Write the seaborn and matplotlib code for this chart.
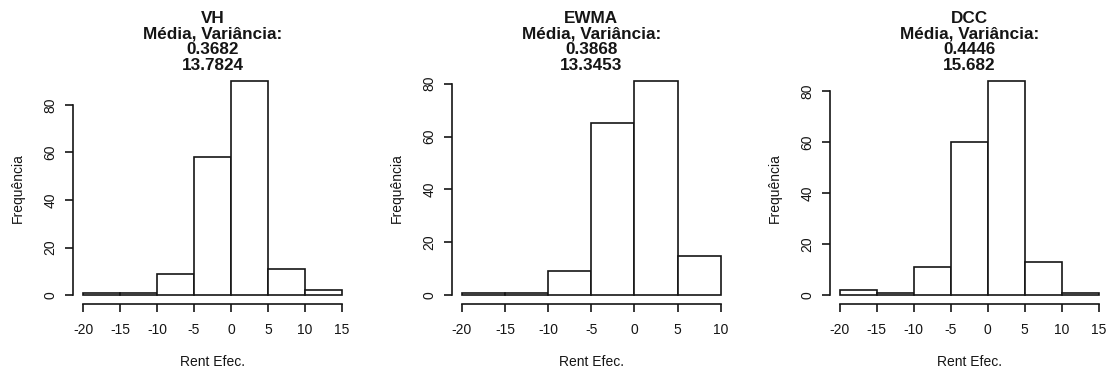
import numpy as np
import pandas as pd
import matplotlib
matplotlib.use("Agg")
import matplotlib.pyplot as plt
import seaborn as sns

# Histogram bin edges and counts for each volatility model
edges_vh = [-20, -15, -10, -5, 0, 5, 10, 15]
counts_vh = [1, 1, 9, 58, 90, 11, 2]

edges_ewma = [-20, -15, -10, -5, 0, 5, 10]
counts_ewma = [1, 1, 9, 65, 81, 15]

edges_dcc = [-20, -15, -10, -5, 0, 5, 10, 15]
counts_dcc = [2, 1, 11, 60, 84, 13, 1]

models = ["VH", "EWMA", "DCC"]
means = ["0.3682", "0.3868", "0.4446"]
variances = ["13.7824", "13.3453", "15.682"]
y_ticks = [0, 20, 40, 60, 80]

sns.set_theme(style="white")
plt.rcParams["font.family"] = ["Liberation Sans", "DejaVu Sans"]

W, H = 1109, 370
fig = plt.figure(figsize=(W / 100, H / 100), dpi=100)

# plot-region left edges (px); all panels share the same size
lefts = [72.7, 451.5, 829.5]
pw, top_px, bot_px = 279.6, 72.4, 303.8
ph = bot_px - top_px
ink = "#151515"

panels = [(edges_vh, counts_vh), (edges_ewma, counts_ewma), (edges_dcc, counts_dcc)]

for i, (edges, counts) in enumerate(panels):
    ax = fig.add_axes([lefts[i] / W, (H - bot_px) / H, pw / W, ph / H])
    centers = [(a + b) / 2 for a, b in zip(edges[:-1], edges[1:])]
    df = pd.DataFrame({"x": centers, "n": counts})
    sns.histplot(data=df, x="x", weights="n", bins=edges, ax=ax,
                 color="white", edgecolor=ink, linewidth=1.2, alpha=1.0)

    # R-style axis ranges (4% padding) with detached axes
    xr = edges[-1] - edges[0]
    ymax = max(counts)
    ax.set_xlim(edges[0] - 0.04 * xr, edges[-1] + 0.04 * xr)
    ax.set_ylim(-0.04 * ymax, ymax * 1.04)
    for s in ["top", "right"]:
        ax.spines[s].set_visible(False)
    for s in ["left", "bottom"]:
        ax.spines[s].set_color(ink)
        ax.spines[s].set_linewidth(1.2)
    ax.spines["bottom"].set_bounds(edges[0], edges[-1])
    ax.spines["left"].set_bounds(0, 80)

    ax.set_xticks(edges)
    ax.set_xticklabels([str(e) for e in edges])
    ax.set_yticks(y_ticks)
    ax.set_yticklabels([str(t) for t in y_ticks])
    ax.tick_params(axis="both", direction="out", length=5.8, width=1.2,
                   color=ink, labelsize=10, labelcolor=ink,
                   bottom=True, left=True)
    ax.tick_params(axis="x", pad=8.3)
    ax.tick_params(axis="y", pad=5.2)
    for lab in ax.get_yticklabels():
        lab.set_rotation(90)
        lab.set_va("center")

    ax.set_xlabel("Rent Efec.", fontsize=10, color=ink)
    ax.set_ylabel("Frequência", fontsize=10, color=ink)
    ax.xaxis.set_label_coords(0.5, (bot_px - 361.5) / ph)
    ax.xaxis.label.set_va("center")
    ax.yaxis.set_label_coords(-55.0 / pw, 0.5)
    ax.yaxis.label.set_va("center")

    ax.text(0.5, 1.0 + (top_px - 73.0) / ph,
            f"{models[i]}\nMédia, Variância:\n{means[i]}\n{variances[i]}",
            transform=ax.transAxes, ha="center", va="bottom",
            fontsize=12.3, fontweight="bold", color=ink, linespacing=1.06)

fig.savefig("out.png", dpi=100, facecolor="white")
